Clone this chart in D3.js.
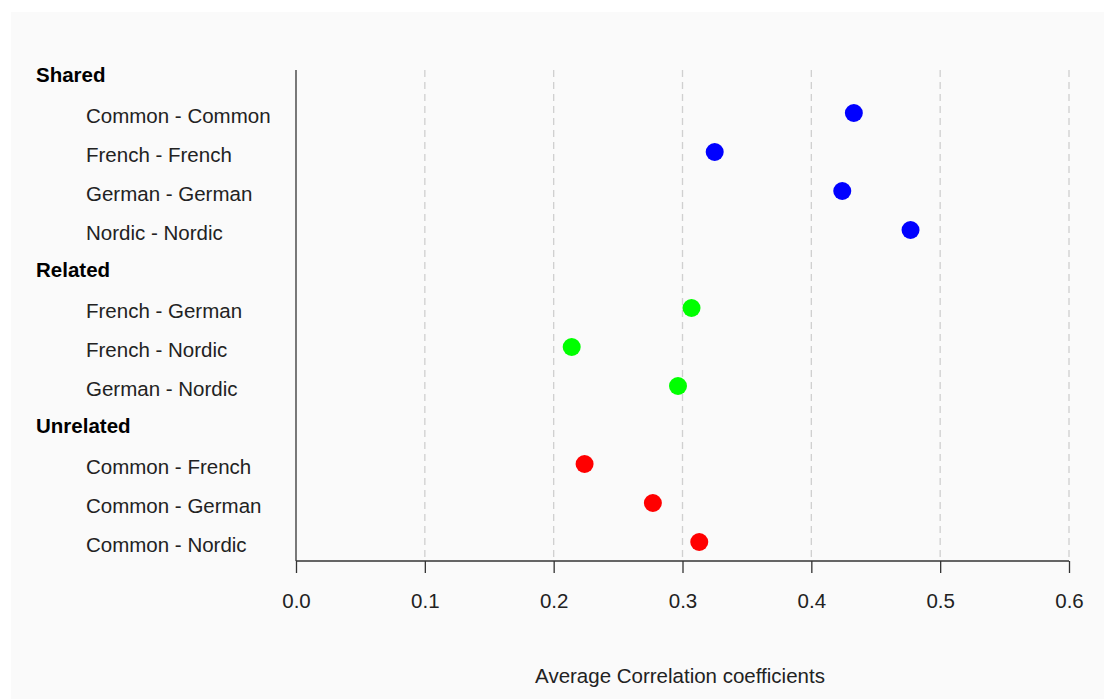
<!DOCTYPE html>
<html><head><meta charset="utf-8">
<script src="https://cdn.jsdelivr.net/npm/d3@7"></script>
<style>
html,body{margin:0;padding:0;background:#fff;}
svg{display:block;font-family:"Liberation Sans",Arial,sans-serif;}
</style></head><body>
<svg id="chart" width="1104" height="699"></svg>
<script>
const groups = ["Shared", "Related", "Unrelated"];
const sharedLabels = ["Common - Common", "French - French", "German - German", "Nordic - Nordic"];
const sharedValues = [0.433, 0.325, 0.424, 0.477];
const relatedLabels = ["French - German", "French - Nordic", "German - Nordic"];
const relatedValues = [0.307, 0.214, 0.2965];
const unrelatedLabels = ["Common - French", "Common - German", "Common - Nordic"];
const unrelatedValues = [0.224, 0.277, 0.313];
const groupColors = ["#0000ff", "#00ff00", "#ff0000"];
const xTicks = [0, 0.1, 0.2, 0.3, 0.4, 0.5, 0.6];
const xTitle = "Average Correlation coefficients";

const labelSets = [sharedLabels, relatedLabels, unrelatedLabels];
const valueSets = [sharedValues, relatedValues, unrelatedValues];

const rows = [];
groups.forEach((g, gi) => {
  rows.push({type: "header", label: g});
  labelSets[gi].forEach((l, i) => rows.push({type: "item", label: l, value: valueSets[gi][i], color: groupColors[gi]}));
});

const svg = d3.select("#chart");
svg.append("rect").attr("x", 11).attr("y", 12).attr("width", 1093).attr("height", 687).attr("fill", "#fafafa");

const x = d3.scaleLinear().domain([0, 0.6]).range([296, 1069]);
const y = d3.scaleLinear().domain([0, rows.length - 1]).range([74, 542]);
const plotTop = 70, plotBottom = 561;
const FS = 20.5;

svg.append("g").selectAll("line").data(xTicks.slice(1)).join("line")
  .attr("x1", d => x(d)).attr("x2", d => x(d))
  .attr("y1", plotTop).attr("y2", plotBottom)
  .attr("stroke", "#d0d0d0").attr("stroke-width", 1.3).attr("stroke-dasharray", "7,5");

const xAxis = d3.axisBottom(x).tickValues(xTicks).tickFormat(d3.format(".1f")).tickSize(12).tickPadding(20);
const gx = svg.append("g").attr("transform", `translate(0,${plotBottom})`).call(xAxis);
gx.select(".domain").attr("stroke", "#333").attr("stroke-width", 1.3).attr("d", `M${x(0)},0H${x(0.6)}`);
gx.selectAll(".tick line").attr("stroke", "#333").attr("stroke-width", 1.3);
gx.selectAll(".tick text").attr("font-size", FS).attr("fill", "#222").attr("font-family", '"Liberation Sans",Arial,sans-serif');

svg.append("line").attr("x1", x(0)).attr("x2", x(0)).attr("y1", plotTop).attr("y2", plotBottom)
  .attr("stroke", "#333").attr("stroke-width", 1.3);

svg.append("g").selectAll("text").data(rows).join("text")
  .attr("x", d => d.type === "header" ? 36 : 86)
  .attr("y", (d, i) => y(i) + (d.type === "header" ? 1 : 3))
  .attr("dy", "0.35em")
  .attr("font-size", FS)
  .attr("font-weight", d => d.type === "header" ? "bold" : "normal")
  .attr("fill", d => d.type === "header" ? "#000" : "#222")
  .text(d => d.label);

svg.append("g").selectAll("circle").data(rows.map((r, i) => ({...r, i})).filter(r => r.type === "item")).join("circle")
  .attr("cx", d => x(d.value)).attr("cy", d => y(d.i)).attr("r", 9)
  .attr("fill", d => d.color);

svg.append("text").attr("x", 680).attr("y", 683).attr("text-anchor", "middle")
  .attr("font-size", FS).attr("fill", "#222").text(xTitle);
</script>
</body></html>
